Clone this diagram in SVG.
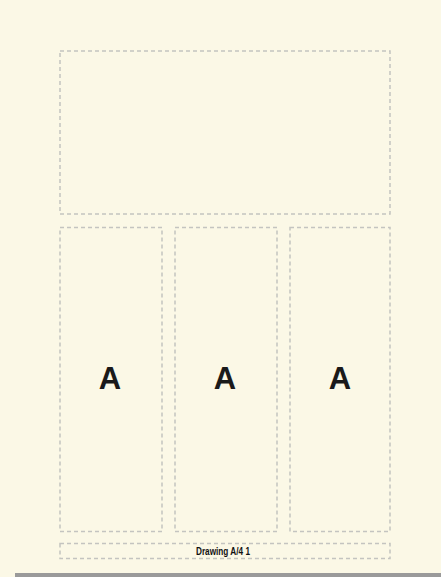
<svg xmlns="http://www.w3.org/2000/svg" width="441" height="577" viewBox="0 0 441 577">
<style>
.box{fill:none;stroke:#c4c4c0;stroke-width:1.5;stroke-dasharray:4 3}
.big{font-family:"Liberation Sans",Arial,sans-serif;font-weight:bold;font-size:31px;fill:#1a1a1a;text-anchor:middle}
.foot{font-family:"Liberation Sans Narrow","Liberation Sans",Arial,sans-serif;font-weight:bold;font-size:11px;fill:#111;text-anchor:middle}
</style>
<rect x="0" y="0" width="441" height="577" fill="#fbf8e6"/>
<rect x="15" y="573" width="426" height="4" fill="#9a9a9a"/>
<g id="header"><rect class="box" x="60" y="51" width="330" height="163"/></g>
<g id="col1"><rect class="box" x="60" y="227.5" width="102" height="304"/><text class="big" x="110" y="389">A</text></g>
<g id="col2"><rect class="box" x="175" y="227.5" width="102" height="304"/><text class="big" x="225" y="389">A</text></g>
<g id="col3"><rect class="box" x="290" y="227.5" width="100" height="304"/><text class="big" x="340" y="389">A</text></g>
<g id="footer"><rect class="box" x="60" y="543.5" width="330" height="15"/><text class="foot" x="223" y="555" textLength="54" lengthAdjust="spacingAndGlyphs">Drawing A/4 1</text></g>
<g id="connectors"/>
</svg>
